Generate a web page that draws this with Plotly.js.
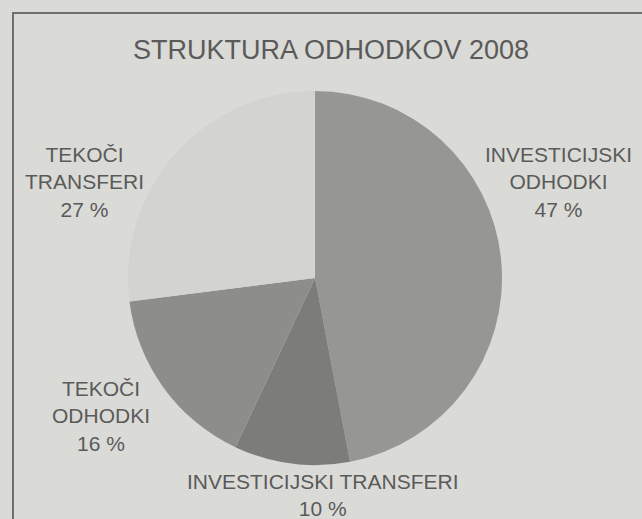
<!DOCTYPE html>
<html>
<head>
<meta charset="utf-8">
<script src="https://cdn.plot.ly/plotly-3.0.1.min.js"></script>
<style>
html,body{margin:0;padding:0;background:#dadad7;}
#chart{width:642px;height:519px;}
</style>
</head>
<body>
<div id="chart"></div>
<script>
// Data
const categories = ["INVESTICIJSKI ODHODKI", "INVESTICIJSKI TRANSFERI", "TEKOČI ODHODKI", "TEKOČI TRANSFERI"];
const labelLines = ["INVESTICIJSKI<br>ODHODKI", "INVESTICIJSKI TRANSFERI", "TEKOČI<br>ODHODKI", "TEKOČI<br>TRANSFERI"];
const shares = [47, 10, 16, 27];
const chartTitle = "STRUKTURA ODHODKOV 2008";

// Styles / layout (pixel positions of label blocks, converted to paper coords)
const W = 642, H = 519;
const sliceColors = ["#969695", "#7c7c7b", "#8d8d8c", "#d3d3d1"];
const labelPos = [[558, 182], [323, 495], [101, 416], [85, 182]];
const textColor = "#5a5a5a";
const fontFam = "'Liberation Sans', Arial, sans-serif";

const trace = {
  type: "pie",
  labels: categories,
  values: shares,
  sort: false,
  direction: "clockwise",
  rotation: 0,
  textinfo: "none",
  hoverinfo: "label+percent",
  marker: {colors: sliceColors, line: {width: 0}},
  domain: {x: [128 / W, 502 / W], y: [1 - 465 / H, 1 - 91 / H]},
  showlegend: false
};

const annotations = categories.map((c, i) => ({
  xref: "paper", yref: "paper",
  x: labelPos[i][0] / W, y: 1 - labelPos[i][1] / H,
  xanchor: "center", yanchor: "middle",
  text: labelLines[i] + "<br>" + shares[i] + " %",
  showarrow: false,
  align: "center",
  font: {family: fontFam, size: 21, color: textColor}
}));

annotations.push({
  xref: "paper", yref: "paper",
  x: 331 / W, y: 1 - 50 / H,
  xanchor: "center", yanchor: "middle",
  text: chartTitle,
  showarrow: false,
  font: {family: fontFam, size: 27, color: textColor}
});

const layout = {
  width: W, height: H,
  margin: {l: 0, r: 0, t: 0, b: 0},
  paper_bgcolor: "#dadad7",
  plot_bgcolor: "#dadad7",
  annotations: annotations,
  shapes: [{
    type: "rect", xref: "paper", yref: "paper",
    x0: 13 / W, x1: 1.05, y0: -0.05, y1: 1 - 13 / H,
    line: {color: "#6e6e6e", width: 2},
    fillcolor: "rgba(0,0,0,0)"
  }]
};

Plotly.newPlot("chart", [trace], layout, {displayModeBar: false, staticPlot: true});
</script>
</body>
</html>
